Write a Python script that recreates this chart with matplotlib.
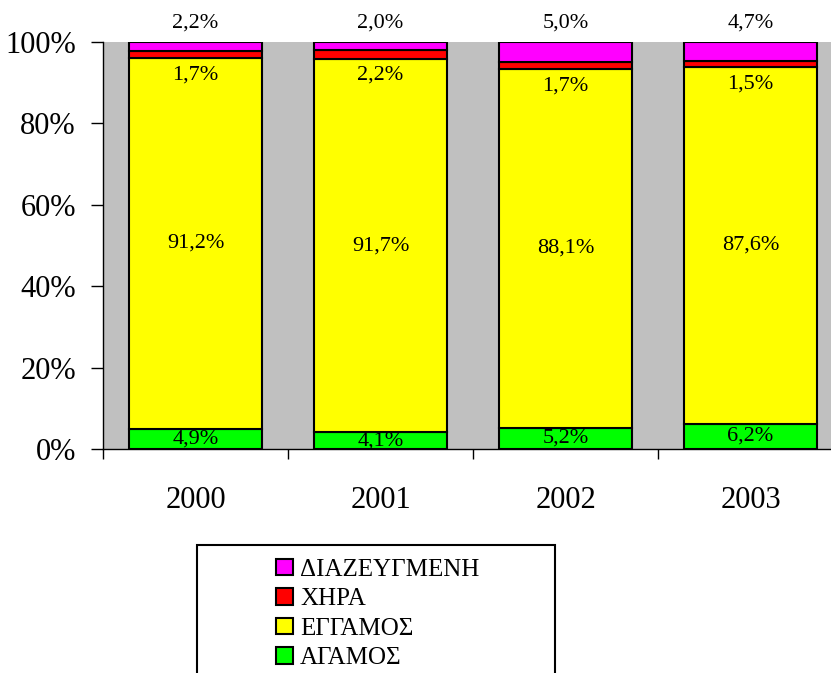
import matplotlib
matplotlib.use("Agg")
import matplotlib.pyplot as plt
from matplotlib.patches import Rectangle

plt.rcParams['font.family'] = ['Liberation Serif', 'DejaVu Serif']

# data (percent shares per year)
years = ["2000", "2001", "2002", "2003"]
agamos = [4.9, 4.1, 5.2, 6.2]
eggamos = [91.2, 91.7, 88.1, 87.6]
xhra = [1.7, 2.2, 1.7, 1.5]
diazeugmenh = [2.2, 2.0, 5.0, 4.7]

series_names = ["ΑΓΑΜΟΣ", "ΕΓΓΑΜΟΣ", "ΧΗΡΑ", "ΔΙΑΖΕΥΓΜΕΝΗ"]
series_vals = [agamos, eggamos, xhra, diazeugmenh]
colors = ["#00ff00", "#ffff00", "#ff0000", "#ff00ff"]


def fmt(v):
    return f"{v:.1f}%".replace('.', ',')


fig = plt.figure(figsize=(8.31, 6.73), dpi=100)
ax = fig.add_axes([0.124, 0.333, 0.876, 0.6046])
ax.set_facecolor("#c0c0c0")

x = list(range(len(years)))
bottoms = [0.0] * len(years)
handles = []
for name, vals, col in zip(series_names, series_vals, colors):
    b = ax.bar(x, vals, width=0.714, bottom=bottoms, color=col,
               edgecolor="black", linewidth=1.5, label=name)
    handles.append(b)
    for i, v in enumerate(vals):
        mid = bottoms[i] + v / 2
        if name == "ΔΙΑΖΕΥΓΜΕΝΗ":
            ypos = 104.6
        elif name == "ΧΗΡΑ":
            ypos = mid - 5
        else:
            ypos = mid
        ax.text(i, ypos, fmt(v), ha="center", va="center", fontsize=16,
                clip_on=False)
    bottoms = [bt + v for bt, v in zip(bottoms, vals)]

ax.set_yticks([0, 20, 40, 60, 80, 100])
ax.set_yticklabels(["0%", "20%", "40%", "60%", "80%", "100%"])
ax.set_xticks([i - 0.5 for i in range(len(years) + 1)])
ax.set_xticklabels([])
ax.set_xticks(x, minor=True)
ax.set_xticklabels(years, minor=True)
# limits after ticks, otherwise set_xticks widens them
ax.set_xlim(-0.5, 3.435)
ax.set_ylim(0, 100)
ax.tick_params(axis="y", direction="out", length=8.6, width=1, pad=11,
               labelsize=22)
ax.tick_params(axis="x", which="major", direction="out", length=7, width=1)
ax.tick_params(axis="x", which="minor", length=0, pad=27, labelsize=22)
for s in ["top", "right"]:
    ax.spines[s].set_visible(False)
ax.spines["left"].set_linewidth(1)
ax.spines["bottom"].set_linewidth(1)

# legend box drawn as a frame, entries centered inside
fig.patches.append(Rectangle((197 / 831, -0.05), 358 / 831, 0.05 + (673 - 545) / 673,
                             transform=fig.transFigure, facecolor="white",
                             edgecolor="black", linewidth=1.5))
leg = fig.legend(handles[::-1], series_names[::-1], loc="upper center",
                 bbox_to_anchor=(378 / 831, 1 - 541 / 673), frameon=False,
                 fontsize=18, handlelength=0.65, handleheight=0.65,
                 handletextpad=0.3, labelspacing=0.3, borderpad=0.2)

fig.savefig("out.png", dpi=100)
